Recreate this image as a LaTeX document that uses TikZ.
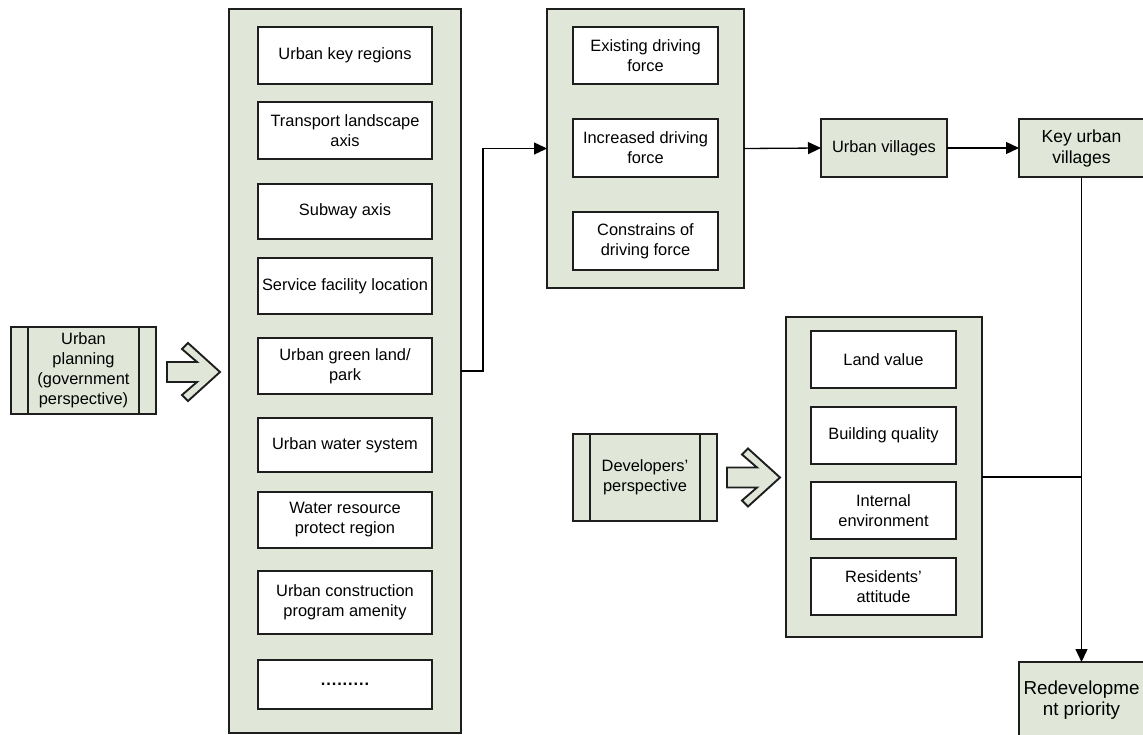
\documentclass[tikz,border=0pt]{standalone}
\usepackage{fontspec}
\setmainfont{Liberation Sans}
\usetikzlibrary{arrows.meta}
\definecolor{boxfill}{RGB}{224,231,216}
\definecolor{edge}{RGB}{30,30,30}
\newcommand{\dotrow}{\textbf{.\kern.9pt.\kern.9pt.\kern.9pt.\kern.9pt.\kern.9pt.\kern.9pt.\kern.9pt.\kern.9pt.}}
\begin{document}
\begin{tikzpicture}[x=1pt,y=-1pt,
  every node/.style={font=\fontsize{16.4}{20}\selectfont, align=center, inner sep=0pt, outer sep=0pt},
  frame/.style={draw=edge, line width=1.3pt, fill=boxfill},
  item/.style={draw=edge, line width=1.3pt, fill=white},
  link/.style={draw=black, line width=1.3pt},
  tip/.style={-{Triangle[length=13pt,width=12pt]}},
  blockarrow/.pic={
    \draw[frame, line width=1.9pt, line join=miter]
      (-53,-10) -- (-23,-10) -- (-38,-23) -- (-32,-29) -- (0,0)
      -- (-32,29) -- (-38,23) -- (-23,10) -- (-53,10) -- cycle;
  }]
\useasboundingbox (0,0) rectangle (1143,734);
\clip (0,0) rectangle (1143,734);

% planning source with side bars
\node[frame, minimum width=145pt, minimum height=87pt] (plan) at (83.5,370.5)
  {Urban\\planning\\(government\\perspective)};
\draw[edge, line width=1.3pt] ([xshift=17pt]plan.north west) -- ([xshift=17pt]plan.south west);
\draw[edge, line width=1.3pt] ([xshift=-17pt]plan.north east) -- ([xshift=-17pt]plan.south east);

% planning elements
\node[frame, minimum width=232pt, minimum height=724pt] (col) at (345,371) {};
\node[item, minimum width=174pt, minimum height=57pt] (k1) at (345,55.5) {Urban key regions};
\node[item, minimum width=174pt, minimum height=57pt] (k2) at (345,130.5) {Transport landscape\\axis};
\node[item, minimum width=174pt, minimum height=55pt] (k3) at (345,211.5) {Subway axis};
\node[item, minimum width=174pt, minimum height=56pt] (k4) at (345,286) {Service facility location};
\node[item, minimum width=174pt, minimum height=56pt] (k5) at (345,366) {Urban green land/\\park};
\node[item, minimum width=174pt, minimum height=54pt] (k6) at (345,445) {Urban water system};
\node[item, minimum width=174pt, minimum height=56pt] (k7) at (345,520) {Water resource\\protect region};
\node[item, minimum width=174pt, minimum height=63pt] (k8) at (345,602.5) {Urban construction\\program amenity};
\node[item, minimum width=174pt, minimum height=49pt] (k9) at (345,684.5) {\dotrow};

% driving force group
\node[frame, minimum width=197pt, minimum height=279pt] (drv) at (645.5,148.5) {};
\node[item, minimum width=145pt, minimum height=57pt] (d1) at (645.5,55.5) {Existing driving\\force};
\node[item, minimum width=145pt, minimum height=58pt] (d2) at (645.5,148) {Increased driving\\force};
\node[item, minimum width=145pt, minimum height=58pt] (d3) at (645.5,241) {Constrains of\\driving force};

% villages
\node[frame, minimum width=126pt, minimum height=58pt] (uv) at (884,148) {Urban villages};
\node[frame, minimum width=125pt, minimum height=58pt, font=\fontsize{17.5}{21}\selectfont] (kuv) at (1081.5,148) {Key urban\\villages};
\node[frame, minimum width=125pt, minimum height=77pt, font=\fontsize{18.8}{21}\selectfont] (red) at (1081.5,700.5) {Redevelopme\\nt priority};

% developers
\node[frame, minimum width=144pt, minimum height=87pt] (dev) at (645,477.5) {Developers’\\perspective};
\draw[edge, line width=1.3pt] ([xshift=17pt]dev.north west) -- ([xshift=17pt]dev.south west);
\draw[edge, line width=1.3pt] ([xshift=-17pt]dev.north east) -- ([xshift=-17pt]dev.south east);

\node[frame, minimum width=196pt, minimum height=320pt] (fac) at (884,477) {};
\node[item, minimum width=145pt, minimum height=57pt] (f1) at (883.5,359.5) {Land value};
\node[item, minimum width=145pt, minimum height=57pt] (f2) at (883.5,435.5) {Building quality};
\node[item, minimum width=145pt, minimum height=57pt] (f3) at (883.5,510.5) {Internal\\environment};
\node[item, minimum width=145pt, minimum height=57pt] (f4) at (883.5,586.5) {Residents’\\attitude};

% block arrows
\coordinate (a1) at (plan.east -| col.west);
\coordinate (a2) at (dev.east -| fac.west);
\pic at ([xshift=-9pt,yshift=-1.5pt]a1) {blockarrow};
\pic at ([xshift=-6pt]a2) {blockarrow};

% connectors
\draw[link, tip] (col.east) -- ++(22,0) |- (drv.west);
\draw[link, tip] (drv.east) -- (uv.west);
\draw[link, tip] (uv.east) -- (kuv.west);
\draw[link, tip] (kuv.south) -- (red.north);
\draw[link] (fac.east) -- (fac.east -| kuv.south);
\end{tikzpicture}
\end{document}
